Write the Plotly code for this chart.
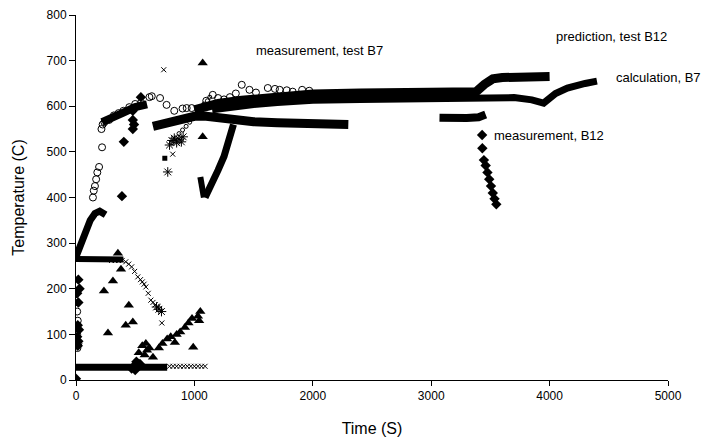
import plotly.graph_objects as go

# ---------------- data ----------------
# thick bands (drawn as lines)
pred_b12_x = [1000, 1200, 1400, 1600, 1800, 2000, 2400, 2800, 3200, 3380, 3450, 3520, 3600, 3800, 4000]
pred_b12_y = [592, 606, 613, 618, 622, 627, 629, 630, 630, 632, 648, 660, 663, 665, 665]

calc_b7_x = [1150, 1300, 1500, 1700, 2000, 2400, 2800, 3200, 3400, 3500, 3700, 3850, 3950, 4050, 4150, 4300, 4400]
calc_b7_y = [592, 598, 604, 608, 613, 615, 616, 617, 618, 620, 619, 614, 607, 628, 640, 650, 655]

band_b12_x = [650, 720, 800, 900, 1000, 1100, 1200, 1300, 1500, 1700, 1900, 2100, 2300]
band_b12_y = [556, 560, 568, 574, 578, 578, 575, 570, 566, 564, 562, 560, 560]

band_b12b_x = [3070, 3200, 3300, 3400, 3460]
band_b12b_y = [575, 572, 574, 576, 582]

rise_x = [0, 40, 80, 120, 160, 200, 250]
rise_y = [270, 300, 330, 350, 365, 370, 362]

early_top_x = [220, 300, 400, 500, 600]
early_top_y = [565, 576, 586, 598, 604]

flat265_x = [0, 150, 300, 400]
flat265_y = [265, 264, 264, 264]

base_x = [0, 770]
base_y = [28, 28]

v_left_x = [1050, 1065, 1080]
v_left_y = [445, 420, 400]
v_right_x = [1090, 1150, 1200, 1250, 1300, 1330]
v_right_y = [400, 430, 460, 490, 530, 560]

# diamond markers (measurement, B12)
dia_x = [548, 404, 388, 0, 480, 480, 480, 490, 470, 500, 520, 540, 510,
         20, 30, 10, 20, 15, 25, 10, 20, 15,
         3430, 3432, 3445, 3460, 3475, 3490, 3505, 3520, 3535, 3550]
dia_y = [620, 522, 403, 3, 590, 570, 550, 560, 25, 22, 30, 35, 40,
         220, 200, 190, 170, 120, 110, 95, 85, 75,
         537, 508, 482, 470, 455, 440, 425, 410, 397, 385]

# open circles (measurement, test B7)
circ_x = [10, 15, 10, 20, 12, 143, 150, 160, 170, 180, 195, 220, 215, 225, 240, 280, 320, 360,
          400, 450, 500, 550, 620, 640, 710, 765, 830, 900, 935, 977, 1045, 1100, 1155, 1200,
          1250, 1300, 1350, 1400, 1465, 1520, 1620, 1680, 1720, 1780, 1830, 1910, 1970]
circ_y = [150, 130, 100, 80, 70, 400, 415, 425, 440, 455, 467, 510, 550, 560, 565, 570, 580, 585,
          590, 598, 605, 608, 620, 622, 618, 603, 590, 595, 596, 596, 592, 612, 625, 618,
          615, 620, 628, 647, 636, 630, 640, 638, 636, 635, 632, 636, 634]

# small open markers along rising chain
chain_x = [810, 840, 870, 900, 930, 960, 990, 1020, 1050, 1080, 1110, 1130]
chain_y = [520, 530, 540, 548, 556, 565, 575, 585, 595, 605, 612, 620]

# triangles
tri_x = [1070, 1070, 354, 380, 312, 236, 446, 420, 480, 270,
         530, 560, 590, 600, 620, 650, 580,
         700, 730, 770, 800, 850, 880, 920, 950, 980, 1030, 1050, 1040, 990, 835, 480]
tri_y = [695, 533, 278, 243, 217, 195, 164, 120, 127, 103,
         60, 75, 80, 65, 70, 50, 55,
         70, 80, 90, 95, 100, 105, 115, 125, 135, 140, 150, 130, 72, 82, 30]

# small x markers (descending curve etc.)
xs_x = [420, 445, 470, 495, 522, 545, 560, 575, 590, 610, 632, 650, 670, 690, 741, 817, 725,
        300, 330, 360, 390, 790, 820, 850, 880, 910, 940, 970, 1000, 1030, 1060, 1090]
xs_y = [259, 254, 248, 238, 226, 220, 215, 210, 204, 190, 175, 170, 165, 160, 680, 495, 125,
        262, 262, 262, 262, 30, 30, 30, 30, 30, 30, 30, 30, 30, 30, 30]

# asterisks
ast_x = [775, 790, 810, 830, 850, 870, 890, 905, 680, 700, 722]
ast_y = [456, 515, 525, 530, 520, 528, 522, 533, 160, 155, 150]

sq_x = [750]
sq_y = [486]

xticks = [0, 1000, 2000, 3000, 4000, 5000]
yticks = [0, 100, 200, 300, 400, 500, 600, 700, 800]

# ---------------- figure ----------------
FONT = "Liberation Sans, Arial, sans-serif"
fig = go.Figure()

def band(x, y, w):
    fig.add_trace(go.Scatter(x=x, y=y, mode="lines", line=dict(color="black", width=w),
                             showlegend=False, hoverinfo="skip"))

band(pred_b12_x, pred_b12_y, 9)
band(calc_b7_x, calc_b7_y, 7)
band(band_b12_x, band_b12_y, 9)
band(band_b12b_x, band_b12b_y, 8)
band(rise_x, rise_y, 7)
band(early_top_x, early_top_y, 8)
band(flat265_x, flat265_y, 6)
band(base_x, base_y, 7)
band(v_left_x, v_left_y, 6)
band(v_right_x, v_right_y, 7)

def pts(x, y, symbol, size, open_=False):
    m = dict(symbol=symbol, size=size, color="black")
    if open_:
        m = dict(symbol=symbol, size=size, color="black", line=dict(color="black", width=1))
    fig.add_trace(go.Scatter(x=x, y=y, mode="markers", marker=m, showlegend=False))

pts(dia_x, dia_y, "diamond", 8)
pts(tri_x, tri_y, "triangle-up", 9)
pts(circ_x, circ_y, "circle-open", 7, True)
pts(chain_x, chain_y, "circle-open", 4, True)
pts(xs_x, xs_y, "x-thin-open", 5, True)
pts(ast_x, ast_y, "asterisk-open", 8, True)
pts(sq_x, sq_y, "square", 5)

annos = [
    ("measurement, test B7", 1500, 723),
    ("prediction, test B12", 4035, 752),
    ("calculation, B7", 4541, 664),
    ("measurement, B12", 3513, 535),
]
for t, ax, ay in annos:
    fig.add_annotation(x=ax, y=ay, text=t, showarrow=False, xanchor="left", yanchor="middle",
                       font=dict(family=FONT, size=13, color="black"))

# page body has an 8px margin, so margins are offset to place the plot area at 76..668 x 15..380
fig.update_layout(
    width=710, height=431,
    margin=dict(l=68, r=50, t=7, b=59),
    paper_bgcolor="white", plot_bgcolor="white",
    font=dict(family=FONT, size=13, color="black"),
    showlegend=False,
)
fig.update_xaxes(range=[0, 5000], tickvals=xticks, ticks="outside", ticklen=5, tickcolor="black",
                 showline=True, linecolor="black", linewidth=1, showgrid=False, zeroline=False,
                 tickfont=dict(size=12),
                 automargin=False, title=dict(text="Time (S)", standoff=20))
fig.update_yaxes(range=[0, 800], tickvals=yticks, ticks="outside", ticklen=6, tickcolor="black",
                 showline=True, linecolor="black", linewidth=1, showgrid=False, zeroline=False,
                 tickfont=dict(size=12),
                 automargin=False, title=dict(text="Temperature (C)", standoff=17))

fig.write_html("out.html")
